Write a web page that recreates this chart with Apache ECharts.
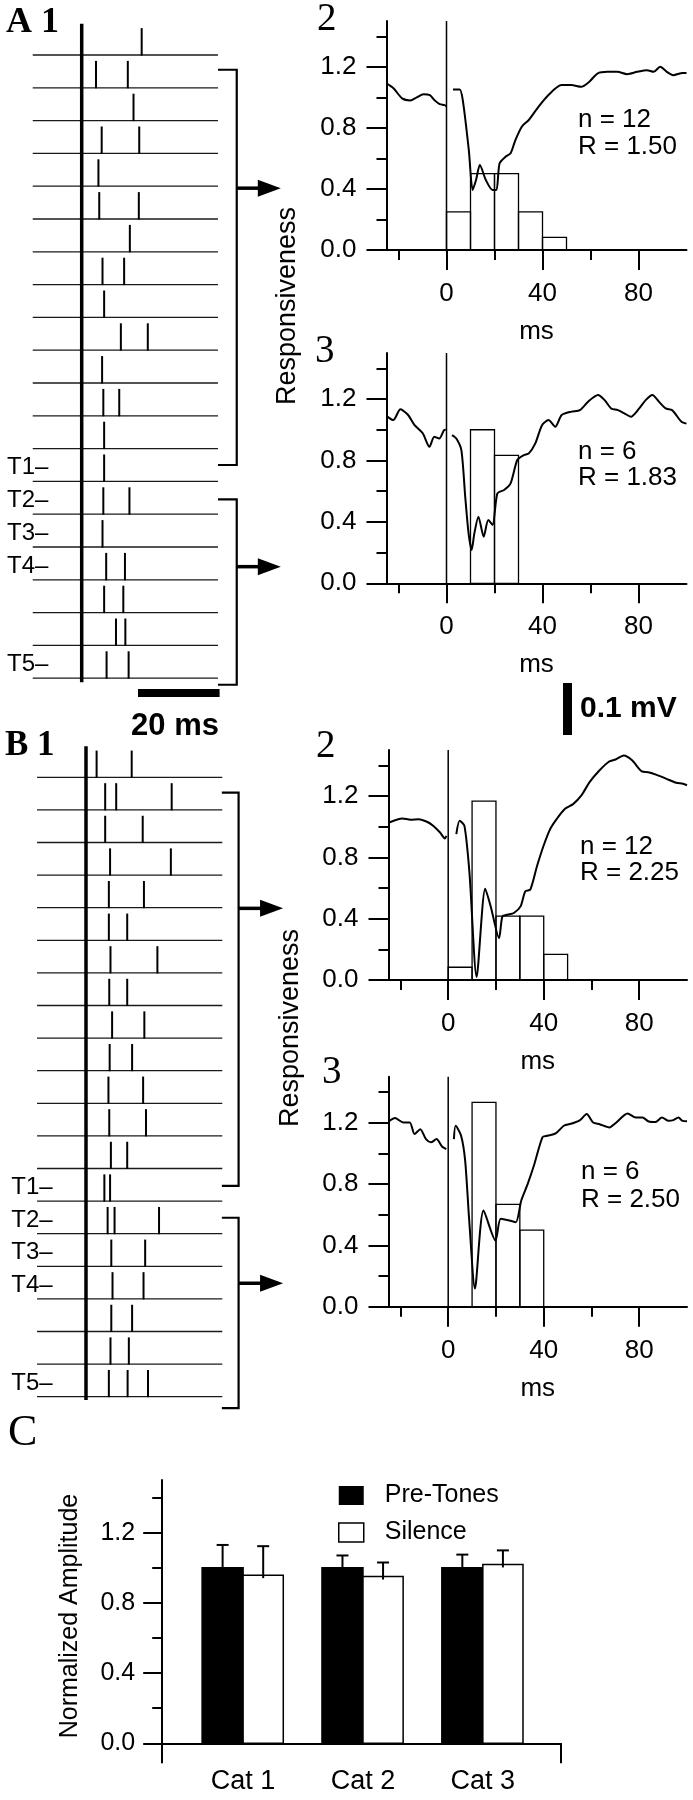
<!DOCTYPE html>
<html><head><meta charset="utf-8">
<script src="https://cdn.jsdelivr.net/npm/echarts@6/dist/echarts.min.js"></script>
<style>html,body{margin:0;padding:0;background:#fff}#c{width:693px;height:1800px}</style>
</head><body><div id="c"></div>
<script>
const FONT = 'Liberation Sans, Arial, Helvetica, sans-serif';
const NARROW = 'Liberation Sans Narrow, Arial Narrow, Liberation Sans, Arial, sans-serif';
const SERIF = 'Liberation Serif, Times New Roman, serif';

// ---------- Raster data (spike times in ms, one list per trial row) ----------
const a1Spikes = [
  [14.7],[3.5,11.3],[12.7],[4.9,14.1],[4.1],[4.3,14.0],[11.8],[5.1,10.4],[5.5],[9.6,16.2],
  [5.0],[5.3,9.2],[5.5],[5.5],[5.3,11.7],[5.1],[6.0,10.6],[5.5,10.2],[8.4,10.7],[6.1,11.5]
];
const b1Spikes = [
  [2.6,11.2],[4.7,7.4,21.0],[4.7,13.9],[5.9,20.8],[5.6,14.2],[5.6,10.1],[6.0,17.5],[5.7,10.1],[6.4,14.3],[5.8,11.3],
  [5.5,14.0],[5.7,14.7],[6.1,10.1],[4.5,5.9],[5.3,7.0,17.9],[6.2,14.5],[6.5,14.1],[6.2,11.3],[6.0,10.5],[5.6,10.2,15.2]
];
const tLabels = ['T1–','T2–','T3–','T4–','T5–'];
const tRows = [14,15,16,17,20];
const aBrackets = [[1.45,13.5],[14.55,20.2]];
const bBrackets = [[1.47,13.53],[14.51,20.35]];
const aArrowRows = [5.06,16.6];
const bArrowRows = [5.02,16.52];

// ---------- PSTH histograms (10 ms bins) ----------
const binStarts = [0,10,20,30,40];
const a2Hist = [0.25,0.5,0.5,0.25,0.083];
const a3Hist = [0,1.0,0.833,0,0];
const b2Hist = [0.083,1.167,0.417,0.417,0.167];
const b3Hist = [0,1.333,0.667,0.5,0];

// ---------- Averaged responsiveness traces (null = break at stimulus) ----------
const a2T = [-25,-22,-18.5,-15.1,-12.4,-9.6,-6.9,-4.9,-2.8,-0.8,0,1,2.7,5.5,6.8,9.3,10.9,12.3,13.9,16.4,19.2,20.8,22.1,24.6,26.7,28.7,31.5,34.2,38.3,42.4,47.9,52,56.1,59.5,62.9,67,71.2,75.3,79.4,83.5,86.3,89,91.8,94.5,98.4,100];
const a2V = [1.091,1.058,0.993,0.98,1.0,1.021,1.014,0.98,0.955,0.949,0.94,null,1.052,1.052,0.98,0.654,0.393,0.458,0.556,0.458,0.393,0.393,0.567,0.611,0.633,0.72,0.811,0.85,0.938,1.014,1.08,1.08,1.069,1.102,1.156,1.167,1.167,1.152,1.167,1.178,1.167,1.2,1.167,1.145,1.16,1.16];
const a3T = [-24.9,-22.2,-19.2,-16.0,-13.3,-9.9,-7.1,-5.1,-3.0,-1.0,-0.3,1,2.3,4.1,6.2,7.8,9.2,10.5,11.6,13.3,15.5,17.4,19.2,21.2,24,26.7,29.5,32.2,34.3,37.0,39.8,42.5,45.3,48.0,52.1,55.6,59.0,63.1,65.9,68.6,71.4,74.1,76.8,80.3,83.0,85.8,88.5,91.3,94.0,97.9,100];
const a3V = [1.089,1.063,1.133,1.096,1.03,0.977,0.889,0.954,0.943,0.998,1.0,null,0.965,0.943,0.867,0.564,0.325,0.217,0.325,0.434,0.304,0.412,0.38,0.586,0.608,0.651,0.803,0.835,0.846,0.911,1.03,1.063,1.02,1.096,1.118,1.128,1.183,1.226,1.193,1.139,1.128,1.107,1.085,1.139,1.193,1.226,1.183,1.139,1.128,1.052,1.04];
const b2T = [-24.7,-19.2,-15.8,-12.3,-8.9,-6.2,-3.4,-1.4,-0.7,1,3.4,4.8,6.8,8.9,11.9,15.5,17.8,21.3,22.7,24.8,27.5,30.3,32.3,34.4,37.2,39.9,42.7,45.4,48.8,52.3,55.7,59.2,63.3,67.4,70.1,73.5,77,81.1,83.8,87.3,91.4,95.5,98.3,100];
const b2V = [1.027,1.054,1.045,1.049,1.032,1.005,0.962,0.923,0.94,null,0.951,1.038,1.005,0.7,0.02,0.595,0.48,0.273,0.415,0.426,0.437,0.48,0.579,0.59,0.743,0.874,0.984,1.049,1.115,1.147,1.202,1.29,1.366,1.425,1.438,1.464,1.433,1.36,1.355,1.338,1.312,1.286,1.28,1.27];
const b3T = [-24.6,-22.3,-18.8,-16.1,-14.1,-11.7,-9.3,-7.2,-4.9,-2.5,-0.8,1,2.4,3.1,5.4,7.1,8.8,11.2,14.8,19.8,22,25.6,28.3,30.6,33.3,36.1,39.5,41.5,45,48.4,51.8,55.2,58,60.7,63.4,67.5,70.3,75.1,78.5,81.3,84,86.8,89.5,92.3,94.3,96.4,98.1,100];
const b3V = [1.212,1.23,1.201,1.201,1.126,1.158,1.093,1.072,1.093,1.043,1.028,null,1.093,1.18,1.115,0.953,0.563,0.119,0.627,0.432,0.573,0.562,0.551,0.693,0.801,0.931,1.106,1.115,1.13,1.18,1.195,1.217,1.256,1.201,1.19,1.169,1.2,1.26,1.234,1.234,1.208,1.205,1.234,1.212,1.217,1.234,1.212,1.21];

// ---------- Axis ticks ----------
const msMajor = [0,40,80];
const msMinor = [-20,20,60];
const respMajor = [0,0.4,0.8,1.2];
const respMinor = [0.2,0.6,1.0,1.4];

// ---------- Panel C ----------
const cats = ['Cat 1','Cat 2','Cat 3'];
const preTones = [1.0,1.0,1.0];
const preErr = [0.13,0.07,0.075];
const silence = [0.958,0.95,1.019];
const silErr = [0.165,0.08,0.08];
const catExtent = [0.325,3.653];

// ================= layout =================
const grids = [
  {left:0.1, top:22.2, width:326.4, height:688.8},     // A1 raster
  {left:386.5, top:21, width:300, height:229},         // A2
  {left:386.5, top:353, width:300, height:230.3},      // A3
  {left:4.4, top:744.7, width:326.4, height:684.6},    // B1 raster
  {left:388.5, top:750, width:298.5, height:230},      // B2
  {left:388.5, top:1076.7, width:298.5, height:230},   // B3
  {left:162.2, top:1480, width:398.9, height:263.3}    // C
];
const black = '#000';
const xAxes = [], yAxes = [], series = [];

function rasterAxes(g){
  xAxes.push({type:'value', gridIndex:g, min:-20, max:60, show:false});
  yAxes.push({type:'value', gridIndex:g, min:0, max:21, inverse:true, show:false});
  return [xAxes.length-1, yAxes.length-1];
}
function plotAxes(g){
  xAxes.push({type:'value', gridIndex:g, min:-25, max:100, position:'bottom',
    axisLine:{show:true, onZero:false, lineStyle:{color:black, width:2}},
    axisTick:{show:true, customValues:msMajor, length:20, lineStyle:{color:black, width:2}},
    axisLabel:{show:true, customValues:msMajor, margin:31, fontSize:26, fontFamily:FONT, color:black},
    splitLine:{show:false},
    name:'ms', nameLocation:'middle', nameGap:69, nameTextStyle:{fontSize:26, fontFamily:FONT, color:black}});
  const xi = xAxes.length-1;
  xAxes.push({type:'value', gridIndex:g, min:-25, max:100, position:'bottom',
    axisLine:{show:false, onZero:false},
    axisTick:{show:true, customValues:msMinor, length:10, lineStyle:{color:black, width:2}},
    axisLabel:{show:false}, splitLine:{show:false}});
  yAxes.push({type:'value', gridIndex:g, min:0, max:1.5, position:'left',
    axisLine:{show:true, onZero:false, lineStyle:{color:black, width:2}},
    axisTick:{show:true, customValues:respMajor, length:20, lineStyle:{color:black, width:2}},
    axisLabel:{show:true, customValues:respMajor, margin:30, fontSize:26, fontFamily:FONT, color:black, formatter:v=>v.toFixed(1)},
    splitLine:{show:false}});
  const yi = yAxes.length-1;
  yAxes.push({type:'value', gridIndex:g, min:0, max:1.5, position:'left',
    axisLine:{show:false, onZero:false},
    axisTick:{show:true, customValues:respMinor, length:10, lineStyle:{color:black, width:2}},
    axisLabel:{show:false}, splitLine:{show:false}});
  return [xi, yi];
}

// ---------- raster ----------
const rasterSpan = [-12, 33.4];
const spikeH = 0.82;
function addRaster(g, spikes, brackets, bracketX, arrowRows, arrowEnd, stimRows, withScale){
  const [xi, yi] = rasterAxes(g);
  const base = {xAxisIndex:xi, yAxisIndex:yi, silent:true, animation:false};
  series.push(Object.assign({type:'custom', data: spikes.map((_,i)=>[rasterSpan[0], i+1, rasterSpan[1]]),
    renderItem:(p,api)=>{ const r=api.value(1); const a=api.coord([api.value(0),r]); const b=api.coord([api.value(2),r]);
      return {type:'line', shape:{x1:a[0],y1:a[1],x2:b[0],y2:b[1]}, style:{stroke:'#1a1a1a', lineWidth:1.3}}; }}, base));
  const sd = []; spikes.forEach((row,i)=>row.forEach(t=>sd.push([t,i+1])));
  series.push(Object.assign({type:'custom', data:sd,
    renderItem:(p,api)=>{ const t=api.value(0), r=api.value(1); const a=api.coord([t,r]); const b=api.coord([t,r-spikeH]);
      return {type:'line', shape:{x1:a[0],y1:a[1]+0.5,x2:b[0],y2:b[1]}, style:{stroke:black, lineWidth:2}}; }}, base));
  series.push(Object.assign({type:'line', data:[[0,stimRows[0]],[0,stimRows[1]]], symbol:'none', lineStyle:{color:black, width:3.5}}, base));
  series.push(Object.assign({type:'custom', data:brackets.map(b=>[bracketX[0], b[0], b[1], bracketX[1]]),
    renderItem:(p,api)=>{ const x0=api.value(0), t=api.value(1), bo=api.value(2), x1=api.value(3);
      return {type:'polyline', shape:{points:[api.coord([x0,t]),api.coord([x1,t]),api.coord([x1,bo]),api.coord([x0,bo])]}, style:{stroke:black, lineWidth:2.2, fill:null}}; }}, base));
  series.push(Object.assign({type:'custom', data:arrowRows.map(r=>[bracketX[1], r, arrowEnd]),
    renderItem:(p,api)=>{ const r=api.value(1); const a=api.coord([api.value(0),r]); const b=api.coord([api.value(2),r]);
      return {type:'group', children:[
        {type:'line', shape:{x1:a[0],y1:a[1],x2:b[0]-18,y2:b[1]}, style:{stroke:black, lineWidth:3.5}},
        {type:'polygon', shape:{points:[[b[0],b[1]],[b[0]-23,b[1]-8.5],[b[0]-23,b[1]+8.5]]}, style:{fill:black}}]}; }}, base));
  series.push(Object.assign({type:'custom', data:tRows.map((r,i)=>[-18.3, r-0.42, i]),
    renderItem:(p,api)=>{ const a=api.coord([api.value(0),api.value(1)]);
      return {type:'text', x:a[0], y:a[1], style:{text:tLabels[api.value(2)], fontSize:24, fontFamily:FONT, fill:black, align:'left', verticalAlign:'middle'}}; }}, base));
  if (withScale){
    series.push(Object.assign({type:'custom', data:[[13.8, 20.45, 33.8]],
      renderItem:(p,api)=>{ const a=api.coord([api.value(0),api.value(1)]); const b=api.coord([api.value(2),api.value(1)]);
        return {type:'rect', shape:{x:a[0], y:a[1]-4, width:b[0]-a[0], height:8}, style:{fill:black}}; }}, base));
  }
}
addRaster(0, a1Spikes, aBrackets, [33.4, 38.0], aArrowRows, 48.8, [0.05, 20.12], true);
addRaster(3, b1Spikes, bBrackets, [33.3, 37.4], bArrowRows, 48.3, [0.05, 20.1], false);

// ---------- PSTH plots ----------
function addPlot(g, T, V, hist){
  const [xi, yi] = plotAxes(g);
  const base = {xAxisIndex:xi, yAxisIndex:yi, silent:true, animation:false};
  series.push(Object.assign({type:'custom', data: binStarts.map((b,i)=>[b, hist[i]]).filter(d=>d[1]>0), z:2,
    renderItem:(p,api)=>{ const x0=api.value(0), h=api.value(1); const a=api.coord([x0,h]); const b=api.coord([x0+10,0]);
      return {type:'rect', shape:{x:a[0], y:a[1], width:b[0]-a[0], height:b[1]-a[1]}, style:{fill:null, stroke:black, lineWidth:1.3}}; }}, base));
  series.push(Object.assign({type:'line', data:[[0,0],[0,1.5]], symbol:'none', z:3, lineStyle:{color:black, width:1.5}}, base));
  series.push(Object.assign({type:'line', data:T.map((t,i)=>[t, V[i]]), symbol:'none', showSymbol:false, smooth:0.25, connectNulls:false, z:4,
    lineStyle:{color:black, width:2}}, base));
}
addPlot(1, a2T, a2V, a2Hist);
addPlot(2, a3T, a3V, a3Hist);
addPlot(4, b2T, b2V, b2Hist);
addPlot(5, b3T, b3V, b3Hist);

// ---------- Panel C ----------
xAxes.push({type:'value', gridIndex:6, min:catExtent[0], max:catExtent[1], position:'bottom',
  axisLine:{show:true, onZero:false, lineStyle:{color:black, width:2}},
  axisTick:{show:true, customValues:catExtent, length:20, lineStyle:{color:black, width:2}},
  axisLabel:{show:true, customValues:[1,2,3], margin:25, fontSize:27, fontFamily:NARROW, color:black, formatter:v=>cats[Math.round(v)-1]},
  splitLine:{show:false}});
const cxi = xAxes.length-1;
yAxes.push({type:'value', gridIndex:6, min:0, max:1.5, position:'left',
  axisLine:{show:true, onZero:false, lineStyle:{color:black, width:2}},
  axisTick:{show:true, customValues:respMajor, length:19, lineStyle:{color:black, width:2}},
  axisLabel:{show:true, customValues:respMajor, margin:27, fontSize:25, fontFamily:FONT, color:black, formatter:v=>v.toFixed(1)},
  splitLine:{show:false}});
const cyi = yAxes.length-1;
yAxes.push({type:'value', gridIndex:6, min:0, max:1.5, position:'left',
  axisLine:{show:false, onZero:false},
  axisTick:{show:true, customValues:respMinor, length:10, lineStyle:{color:black, width:2}},
  axisLabel:{show:false}, splitLine:{show:false}});
const barW = 0.342;
const cbase = {xAxisIndex:cxi, yAxisIndex:cyi, animation:false, silent:true};
series.push(Object.assign({type:'custom', name:'Pre-Tones', itemStyle:{color:black}, data:preTones.map((v,i)=>[i+1, v]),
  renderItem:(p,api)=>{ const x=api.value(0), v=api.value(1); const a=api.coord([x-barW, v]); const b=api.coord([x, 0]);
    return {type:'rect', shape:{x:a[0], y:a[1], width:b[0]-a[0], height:b[1]-a[1]}, style:{fill:black, stroke:black, lineWidth:1.5}}; }}, cbase));
series.push(Object.assign({type:'custom', name:'Silence', itemStyle:{color:'#fff', borderColor:black, borderWidth:1.5}, data:silence.map((v,i)=>[i+1, v]),
  renderItem:(p,api)=>{ const x=api.value(0), v=api.value(1); const a=api.coord([x, v]); const b=api.coord([x+barW*0.98, 0]);
    return {type:'rect', shape:{x:a[0], y:a[1], width:b[0]-a[0], height:b[1]-a[1]}, style:{fill:'#fff', stroke:black, lineWidth:1.5}}; }}, cbase));
const errData = [];
preTones.forEach((v,i)=>errData.push([i+1-barW/2, v, preErr[i]]));
silence.forEach((v,i)=>errData.push([i+1+barW*0.49, v, silErr[i]]));
series.push(Object.assign({type:'custom', data:errData, z:5,
  renderItem:(p,api)=>{ const x=api.value(0), v=api.value(1), e=api.value(2); const a=api.coord([x, v]); const b=api.coord([x, v+e]);
    return {type:'group', children:[
      {type:'line', shape:{x1:a[0],y1:a[1]+3,x2:b[0],y2:b[1]}, style:{stroke:black, lineWidth:2}},
      {type:'line', shape:{x1:b[0]-6,y1:b[1],x2:b[0]+6,y2:b[1]}, style:{stroke:black, lineWidth:2}}]}; }}, cbase));

// ---------- free text / scale bars ----------
function txt(x, y, text, size, opts){
  return Object.assign({type:'text', x:x, y:y, silent:true, style:Object.assign({text:text, fontSize:size, fontFamily:FONT, fill:black,
    align:'left', verticalAlign:'middle', textAlign:'left', textVerticalAlign:'middle'}, (opts && opts.style) || {})},
    opts ? {rotation: opts.rotation || 0} : {});
}
const graphic = [
  txt(6, 23, 'A 1', 36, {style:{fontFamily:SERIF, fontWeight:'bold'}}),
  txt(5, 746, 'B 1', 35, {style:{fontFamily:SERIF, fontWeight:'bold'}}),
  txt(317, 20, '2', 39, {style:{fontFamily:SERIF}}),
  txt(315, 351.5, '3', 39, {style:{fontFamily:SERIF}}),
  txt(316, 746.5, '2', 39, {style:{fontFamily:SERIF}}),
  txt(322, 1072.5, '3', 39, {style:{fontFamily:SERIF}}),
  txt(8, 1433, 'C', 44, {style:{fontFamily:SERIF}}),
  txt(578, 120, 'n = 12', 26), txt(578, 146.7, 'R = 1.50', 26),
  txt(578, 451.7, 'n = 6', 26), txt(578, 478, 'R = 1.83', 26),
  txt(580, 846.7, 'n = 12', 26), txt(580, 873.3, 'R = 2.25', 26),
  txt(581, 1171.7, 'n = 6', 26), txt(581, 1200, 'R = 2.50', 26),
  txt(288, 306, 'Responsiveness', 27, {rotation:Math.PI/2, style:{align:'center', textAlign:'center'}}),
  txt(291, 1028, 'Responsiveness', 27, {rotation:Math.PI/2, style:{align:'center', textAlign:'center'}}),
  txt(70, 1616, 'Normalized Amplitude', 25, {rotation:Math.PI/2, style:{align:'center', textAlign:'center'}}),
  txt(175, 726, '20 ms', 31, {style:{fontWeight:'bold', align:'center', textAlign:'center'}}),
  {type:'rect', silent:true, shape:{x:563, y:683, width:9, height:52}, style:{fill:black}},
  txt(580, 709, '0.1 mV', 30, {style:{fontWeight:'bold'}})
];

const chart = echarts.init(document.getElementById('c'), null, {renderer:'canvas'});
chart.setOption({
  animation:false,
  backgroundColor:'#fff',
  grid: grids,
  xAxis: xAxes,
  yAxis: yAxes,
  legend: {orient:'vertical', left:333, top:1478, itemWidth:25, itemHeight:19, itemGap:12, icon:'rect', selectedMode:false,
    textStyle:{fontSize:25, fontFamily:FONT, color:black, lineHeight:20, padding:[0,0,0,16]},
    data:[{name:'Pre-Tones', itemStyle:{color:black}}, {name:'Silence', itemStyle:{color:'#fff', borderColor:black, borderWidth:1.5}}]},
  series: series,
  graphic: graphic
});
</script></body></html>
